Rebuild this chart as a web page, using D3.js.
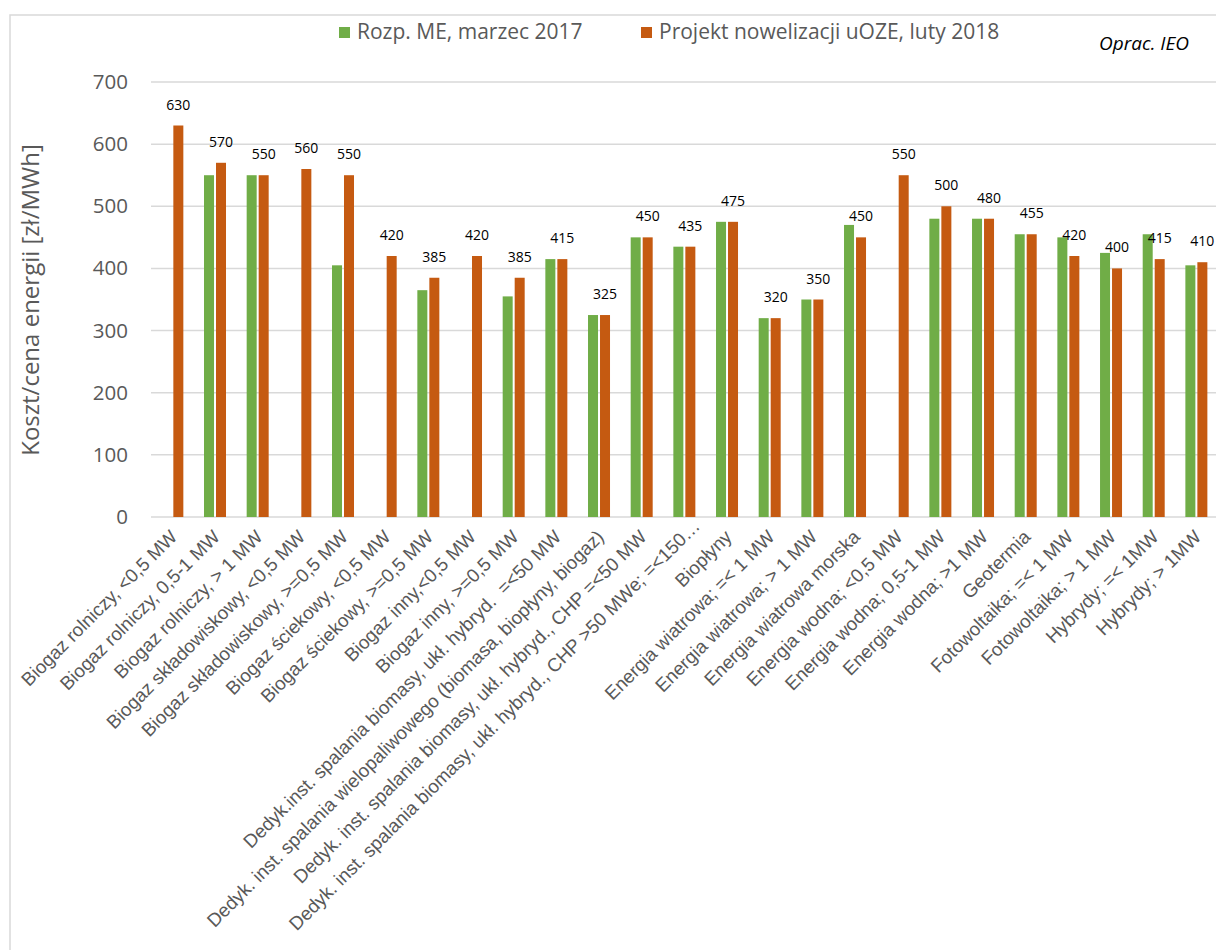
<!DOCTYPE html>
<html>
<head>
<meta charset="utf-8">
<script src="https://cdn.jsdelivr.net/npm/d3@7"></script>
<style>
  body { margin: 0; background: #fff; }
</style>
</head>
<body>
<script>
// kategorie OZE i ceny referencyjne [zł/MWh]
const categories = [
  "Biogaz rolniczy, <0,5 MW",
  "Biogaz rolniczy, 0,5-1 MW",
  "Biogaz rolniczy, > 1 MW",
  "Biogaz składowiskowy, <0,5 MW",
  "Biogaz składowiskowy, >=0,5 MW",
  "Biogaz ściekowy, <0,5 MW",
  "Biogaz ściekowy, >=0,5 MW",
  "Biogaz inny,<0,5 MW",
  "Biogaz inny, >=0,5 MW",
  "Dedyk.inst. spalania biomasy, ukł. hybryd.  =<50 MW",
  "Dedyk. inst. spalania wielopaliwowego (biomasa, biopłyny, biogaz)",
  "Dedyk. inst. spalania biomasy, ukł. hybryd., CHP =<50 MW",
  "Dedyk. inst. spalania biomasy, ukł. hybryd., CHP >50 MWe; =<150…",
  "Biopłyny",
  "Energia wiatrowa; =< 1 MW",
  "Energia wiatrowa; > 1 MW",
  "Energia wiatrowa morska",
  "Energia wodna; <0,5 MW",
  "Energia wodna; 0,5-1 MW",
  "Energia wodna; >1 MW",
  "Geotermia",
  "Fotowoltaika; =< 1 MW",
  "Fotowoltaika; > 1 MW",
  "Hybrydy; =< 1MW",
  "Hybrydy; > 1MW"
]

const rozpME = [null, 550, 550, null, 405, null, 365, null, 355, 415, 325, 450, 435,
  475, 320, 350, 470, null, 480, 480, 455, 450, 425, 455, 405]

const projekt = [630, 570, 550, 560, 550, 420, 385, 420, 385, 415, 325, 450, 435,
  475, 320, 350, 450, 550, 500, 480, 455, 420, 400, 415, 410]

const seriesNames = ["Rozp. ME, marzec 2017", "Projekt nowelizacji uOZE, luty 2018"]
const seriesColors = ["#70AD47", "#C55A11"]
const yTicks = [0, 100, 200, 300, 400, 500, 600, 700]

const W = 1216, H = 950
const grey = "#595959"
const calibriLike = "'Open Sans', sans-serif"

const svg = d3.select("body").append("svg")
    .attr("width", W)
    .attr("height", H)

// ramka wykresu
svg.append("rect")
    .attr("x", 10).attr("y", 15)
    .attr("width", 1240).attr("height", 960)
    .attr("fill", "none")
    .attr("stroke", "#d9d9d9")
    .attr("stroke-width", 1.5)

const x0 = d3.scaleBand()
    .domain(categories)
    .range([151, 1217.7])

const x1 = d3.scaleBand()
    .domain(seriesNames)
    .range([0, 22])
    .paddingInner(1 / 6)

const y = d3.scaleLinear()
    .domain([0, 700])
    .range([517, 82])

const center = c => x0(c) + x0.bandwidth() / 2

// siatka
svg.append("g")
    .selectAll("line")
    .data(yTicks)
    .enter()
    .append("line")
        .attr("x1", 151)
        .attr("x2", W)
        .attr("y1", d => y(d))
        .attr("y2", d => y(d))
        .attr("stroke", "#d9d9d9")
        .attr("stroke-width", 1.5)

const yAxis = svg.append("g")
    .attr("transform", "translate(128,0)")
    .call(d3.axisLeft(y).tickValues(yTicks).tickSize(0).tickPadding(0))
yAxis.select(".domain").remove()
yAxis.selectAll("text")
    .attr("fill", grey)
    .attr("font-family", calibriLike)
    .attr("font-size", "20.5px")

svg.append("text")
    .attr("transform", "translate(39,300) rotate(-90)")
    .attr("text-anchor", "middle")
    .attr("fill", grey)
    .attr("font-family", calibriLike)
    .attr("font-size", "24px")
    .text("Koszt/cena energii [zł/MWh]")

// słupki
const rows = categories.map((c, i) => ({ cat: c, values: [rozpME[i], projekt[i]] }))

const groups = svg.append("g")
    .selectAll("g")
    .data(rows)
    .enter()
    .append("g")
        .attr("transform", d => `translate(${center(d.cat) - 11},0)`)

groups.selectAll("rect")
    .data(d => d.values.map((v, j) => ({ s: seriesNames[j], v: v, j: j })).filter(e => e.v != null))
    .enter()
    .append("rect")
        .attr("x", d => x1(d.s))
        .attr("width", x1.bandwidth())
        .attr("y", d => y(d.v))
        .attr("height", d => y(0) - y(d.v))
        .attr("fill", d => seriesColors[d.j])

// etykiety danych nad słupkami projektu
groups.append("text")
    .attr("x", x1(seriesNames[1]) + x1.bandwidth() / 2)
    .attr("y", d => y(d.values[1]) - 16)
    .attr("text-anchor", "middle")
    .attr("font-family", calibriLike)
    .attr("font-size", "14px")
    .attr("fill", "#000")
    .text(d => d.values[1])

// etykiety kategorii (obcięta etykieta jest w Excelu przesunięta)
svg.append("g")
    .selectAll("text")
    .data(categories)
    .enter()
    .append("text")
        .attr("transform", d => `translate(${center(d) + 6},538) rotate(-45)`)
        .attr("dx", d => d.endsWith("…") ? 15 : 0)
        .attr("text-anchor", "end")
        .attr("fill", grey)
        .attr("font-family", "'Liberation Sans', Arial, sans-serif")
        .attr("font-size", "18.8px")
        .style("white-space", "pre")
        .text(d => d)

// legenda
const legend = svg.append("g")
    .selectAll("g")
    .data(seriesNames)
    .enter()
    .append("g")
        .attr("transform", (d, i) => `translate(${[339, 641][i]},0)`)

legend.append("rect")
    .attr("x", 0).attr("y", 27)
    .attr("width", 11).attr("height", 11)
    .attr("fill", (d, i) => seriesColors[i])

legend.append("text")
    .attr("x", 18)
    .attr("y", 39)
    .attr("fill", grey)
    .attr("font-family", calibriLike)
    .attr("font-size", "21px")
    .text(d => d)

svg.append("text")
    .attr("x", 1189)
    .attr("y", 50)
    .attr("text-anchor", "end")
    .attr("font-family", calibriLike)
    .attr("font-style", "italic")
    .attr("font-size", "19px")
    .attr("fill", "#000")
    .text("Oprac. IEO")
</script>
</body>
</html>
